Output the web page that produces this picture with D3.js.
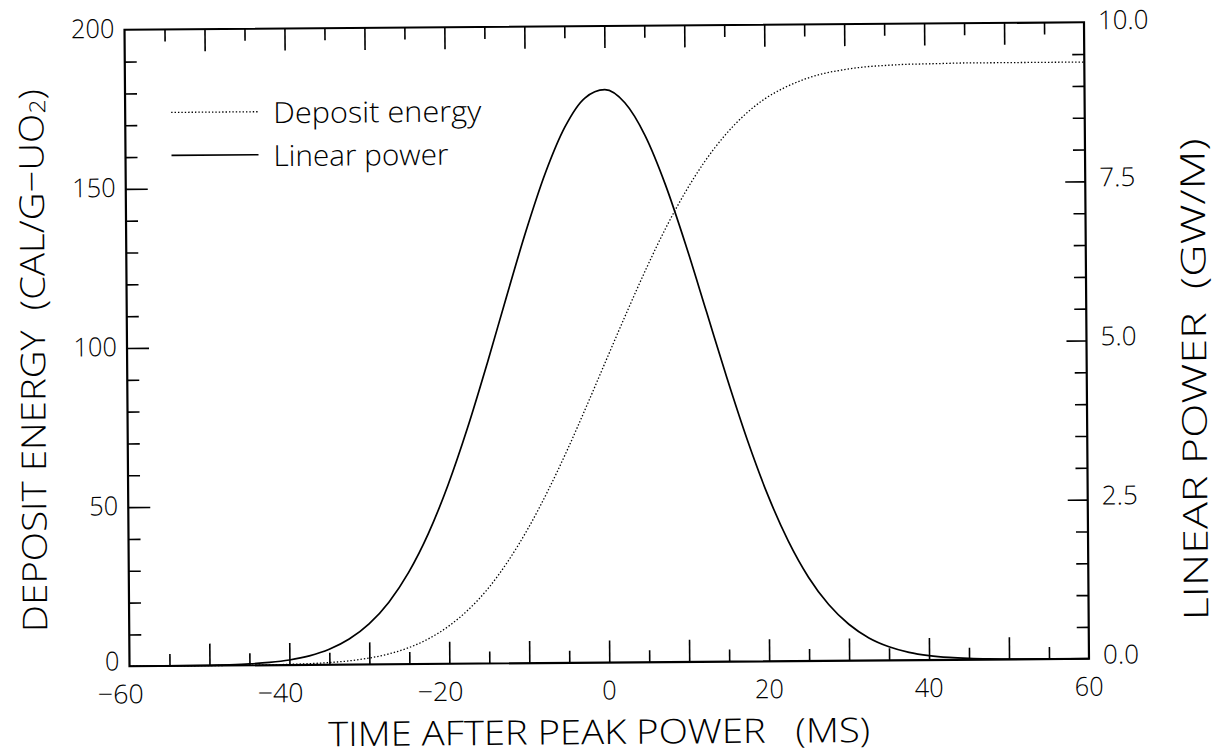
<!DOCTYPE html>
<html>
<head>
<meta charset="utf-8">
<script src="https://cdn.jsdelivr.net/npm/d3@7"></script>
<style>
body{margin:0;background:#fff;}
text{font-family:"Open Sans","Liberation Sans",sans-serif;font-weight:300;fill:#000;}
</style>
</head>
<body>
<svg id="chart" width="1221" height="755"></svg>
<script>
// ---- data ----
const timeMs = [-60,-55,-50,-47.5,-45,-42.5,-40,-37.5,-35,-32.5,-30,-27.5,-25,-22.5,-20,-17.5,-15,-12.5,-10,-7.5,-5,-2.5,0,2.5,5,7.5,10,12.5,15,17.5,20,22.5,25,27.5,30,32.5,35,37.5,40,42.5,45,47.5,50,55,60];
const linearPower = [0.000,0.001,0.005,0.011,0.022,0.043,0.079,0.141,0.242,0.400,0.636,0.975,1.440,2.047,2.805,3.700,4.702,5.756,6.784,7.701,8.423,8.871,9.000,8.791,8.273,7.497,6.543,5.501,4.454,3.474,2.609,1.888,1.315,0.883,0.571,0.354,0.213,0.123,0.069,0.037,0.019,0.009,0.004,0.001,0.000];
const depositEnergy = [0.0,0.0,0.01,0.02,0.05,0.10,0.20,0.37,0.67,1.17,2.0,3.27,5.2,8.0,11.9,17.1,23.8,32.3,42.4,54.1,67.1,81.1,95.5,109.8,123.6,136.4,147.7,157.4,165.4,171.8,176.7,180.2,182.8,184.6,185.7,186.5,186.9,187.2,187.3,187.4,187.5,187.5,187.5,187.5,187.5];
const xTickLabels = [-60,-40,-20,0,20,40,60];
const leftTickLabels = [0,50,100,150,200];
const rightTickLabels = [0,2.5,5,7.5,10];
const seriesNames = ["Deposit energy","Linear power"];
const xTitle = "TIME AFTER PEAK POWER   (MS)";
const leftTitle = "DEPOSIT ENERGY  (CAL/G\u2212UO";
const rightTitle = "LINEAR POWER  (GW/M)";

// ---- layout ----
const L = 127, R = 1086.5, T = 26, B = 662.5;
const svg = d3.select("#chart");
const g = svg.append("g").attr("transform", "rotate(-0.45,607,344)");

const x = d3.scaleLinear().domain([-60,60]).range([L,R]);
const yL = d3.scaleLinear().domain([0,200]).range([B,T]);
const yR = d3.scaleLinear().domain([0,10]).range([B,T]);

function styleAxis(sel){
  sel.select(".domain").remove();
  sel.selectAll(".tick line").attr("stroke","#000").attr("stroke-width",1.6);
  sel.selectAll(".tick text").remove();
}
const minorX = d3.range(-55,60,10);
const majorX = d3.range(-50,60,10);
g.append("g").attr("transform",`translate(0,${B})`).call(d3.axisBottom(x).tickValues(minorX).tickSize(-12)).call(styleAxis);
g.append("g").attr("transform",`translate(0,${B})`).call(d3.axisBottom(x).tickValues(majorX).tickSize(-22)).call(styleAxis);
g.append("g").attr("transform",`translate(0,${T})`).call(d3.axisTop(x).tickValues(minorX).tickSize(-12)).call(styleAxis);
g.append("g").attr("transform",`translate(0,${T})`).call(d3.axisTop(x).tickValues(majorX).tickSize(-22)).call(styleAxis);

const minorL = d3.range(10,200,10).filter(v=>v%50!==0);
const majorL = [50,100,150];
g.append("g").attr("transform",`translate(${L},0)`).call(d3.axisLeft(yL).tickValues(minorL).tickSize(-12)).call(styleAxis);
g.append("g").attr("transform",`translate(${L},0)`).call(d3.axisLeft(yL).tickValues(majorL).tickSize(-22)).call(styleAxis);
const minorR = d3.range(0.5,10,0.5).filter(v=>Math.abs(v/2.5-Math.round(v/2.5))>1e-6);
const majorR = [2.5,5,7.5];
g.append("g").attr("transform",`translate(${R},0)`).call(d3.axisRight(yR).tickValues(minorR).tickSize(-12)).call(styleAxis);
g.append("g").attr("transform",`translate(${R},0)`).call(d3.axisRight(yR).tickValues(majorR).tickSize(-20)).call(styleAxis);

// frame
g.append("rect").attr("x",L).attr("y",T).attr("width",R-L).attr("height",B-T)
  .attr("fill","none").attr("stroke","#000").attr("stroke-width",2.2);

// narrow tick-label widths like the reference's condensed lettering
function labelWidth(s){
  let w = 0;
  for (const c of s) w += (c === "." ? 7 : c === "\u2212" ? 17 : 14.5);
  return w;
}
function addLabel(sel, str){
  sel.text(str).attr("textLength", labelWidth(str)).attr("lengthAdjust","spacingAndGlyphs");
}

// tick labels
g.selectAll(".xl").data(xTickLabels).enter().append("text")
  .attr("x",d=>x(d) + (d<0?-9:0)).attr("y",B+27)
  .attr("text-anchor","middle").attr("dominant-baseline","central")
  .attr("font-size",26).each(function(d){ addLabel(d3.select(this), d<0?"\u2212"+Math.abs(d):String(d)); });
g.selectAll(".ll").data(leftTickLabels).enter().append("text")
  .attr("x",L-10).attr("y",d=>yL(d)-(d===0?6:2))
  .attr("text-anchor","end").attr("dominant-baseline","central")
  .attr("font-size",26).each(function(d){ addLabel(d3.select(this), String(d)); });
g.selectAll(".rl").data(rightTickLabels).enter().append("text")
  .attr("x",R+14).attr("y",d=>yR(d)-(d===10?3:5))
  .attr("text-anchor","start").attr("dominant-baseline","central")
  .attr("font-size",26).each(function(d){ addLabel(d3.select(this), d3.format(".1f")(d)); });

// axis titles
g.append("text").attr("x",596).attr("y",731).attr("text-anchor","middle")
  .attr("dominant-baseline","central").attr("font-size",34)
  .attr("textLength",542).attr("lengthAdjust","spacingAndGlyphs")
  .style("white-space","pre").text(xTitle);
const lt = g.append("text").attr("transform","translate(32,356) rotate(-90)")
  .attr("text-anchor","middle").attr("dominant-baseline","central").attr("font-size",34)
  .attr("textLength",543).attr("lengthAdjust","spacingAndGlyphs").style("white-space","pre");
lt.append("tspan").text(leftTitle);
lt.append("tspan").attr("font-size",22).attr("dy",6).text("2");
lt.append("tspan").attr("dy",-6).text(")");
g.append("text").attr("transform","translate(1193,384) rotate(-90)")
  .attr("text-anchor","middle").attr("dominant-baseline","central").attr("font-size",34)
  .attr("textLength",482).attr("lengthAdjust","spacingAndGlyphs")
  .style("white-space","pre").text(rightTitle);

// curves
const lineE = d3.line().x((d,i)=>x(timeMs[i])).y(d=>yL(d)).curve(d3.curveMonotoneX);
const lineP = d3.line().x((d,i)=>x(timeMs[i])).y(d=>yR(d)).curve(d3.curveMonotoneX);
g.append("path").attr("d",lineE(depositEnergy)).attr("fill","none")
  .attr("stroke","#000").attr("stroke-width",1.3).attr("stroke-dasharray","1.4,2");
g.append("path").attr("d",lineP(linearPower)).attr("fill","none")
  .attr("stroke","#000").attr("stroke-width",1.7);

// legend
const leg = [{name:seriesNames[0],dash:"1.4,2",w:1.3,y:109,len:208},{name:seriesNames[1],dash:null,w:1.7,y:152,len:175}];
leg.forEach(d=>{
  g.append("line").attr("x1",173).attr("x2",260).attr("y1",d.y).attr("y2",d.y)
    .attr("stroke","#000").attr("stroke-width",d.w).attr("stroke-dasharray",d.dash);
  g.append("text").attr("x",275).attr("y",d.y).attr("dominant-baseline","central")
    .attr("font-size",29).attr("textLength",d.len).attr("lengthAdjust","spacingAndGlyphs").text(d.name);
});
</script>
</body>
</html>
